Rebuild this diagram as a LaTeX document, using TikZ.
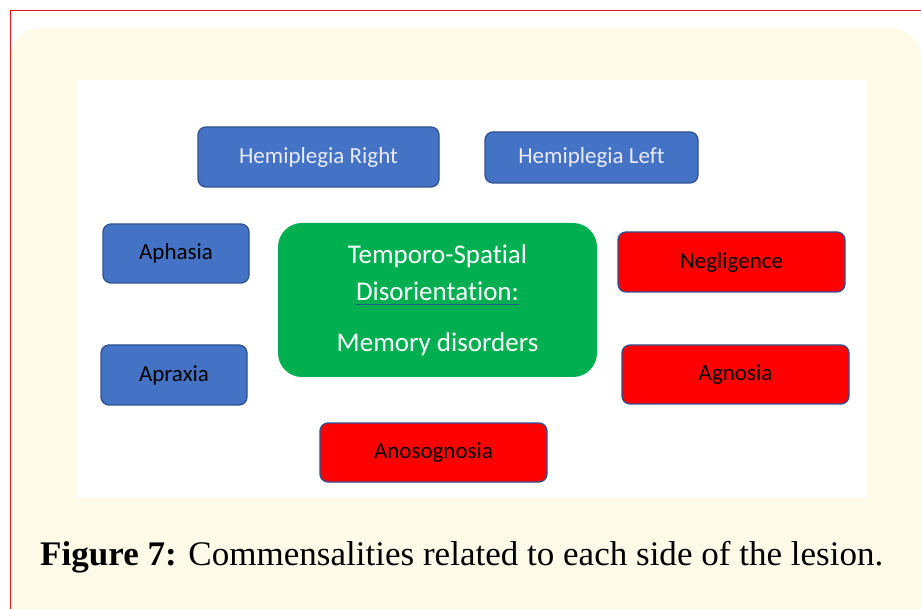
\documentclass[tikz,border=0pt]{standalone}
\usepackage{fontspec}
\usepackage{graphicx}
\setmainfont{Carlito}[Ligatures=NoCommon]
\newfontfamily\capfont{Liberation Serif}
\definecolor{cream}{HTML}{FEFAE8}
\definecolor{boxblue}{HTML}{4472C4}
\definecolor{edgeblue}{HTML}{2F528F}
\definecolor{boxred}{HTML}{FF0000}
\definecolor{boxgreen}{HTML}{00B050}
\definecolor{ulblue}{HTML}{1F5A8C}
\definecolor{frame}{HTML}{E8141E}
\newcommand\spellul[1]{\setbox0\hbox{#1}\rlap{\color{ulblue}\rule[-5pt]{\wd0}{1.3pt}}\box0}
\tikzset{
  tag/.style={draw=edgeblue, line width=1.3pt, rounded corners=8pt, inner sep=0pt,
    font=\fontsize{23}{27}\selectfont},
  bluebox/.style={tag, fill=boxblue},
  redbox/.style={tag, fill=boxred, text=black},
  greenbox/.style={fill=boxgreen, rounded corners=24pt, inner sep=0pt, text=white, align=center,
    font=\fontsize{27}{37}\selectfont}
}
\begin{document}
\begin{tikzpicture}[x=1pt,y=-1pt]
\useasboundingbox (0,0) rectangle (921,609);
\fill[white] (0,0) rectangle (921,609);
% cream panel
\fill[cream, rounded corners=30pt] (11,28) -- (921,28) -- (921,640) -- (11,640) -- cycle;
\fill[cream] (11,580) rectangle (921,609);
% frame lines
\draw[frame, line width=1pt] (10.5,609) -- (10.5,10.5) -- (921,10.5);
% white figure area
\fill[white] (77,80) rectangle (867,498);

\node[bluebox, text=white!92!blue, minimum width=241pt, minimum height=60pt] (hr) at (318.5,157) {Hemiplegia Right};
\node[bluebox, text=white!92!blue, minimum width=213pt, minimum height=51pt] (hl) at (591.5,157.5) {Hemiplegia Left};
\node[bluebox, text=black, minimum width=146pt, minimum height=59pt] (aph) at (176,253.5) {Aphasia};
\node[bluebox, text=black, minimum width=146pt, minimum height=60pt] (apr) at (174,375) {Apraxia};
\node[redbox, minimum width=227pt, minimum height=60pt] (neg) at (731.5,262) {Negligence};
\node[redbox, minimum width=227pt, minimum height=59pt] (agn) at (735.5,374.5) {Agnosia};
\node[redbox, minimum width=227pt, minimum height=59pt] (ano) at (433.5,452.5) {Anosognosia};
\node[greenbox, minimum width=319pt, minimum height=154pt] (tsd) at (437.5,300)
  {\raisebox{-3pt}{Temporo-Spatial}\\ \raisebox{-3pt}{\spellul{Disorientation:}}\\[14pt] \raisebox{-3pt}{Memory disorders}};

\node[anchor=base west, inner sep=0pt] (cap) at (40,565)
  {\resizebox{843pt}{\height}{\capfont\fontsize{34.5}{40}\selectfont\textbf{Figure 7:} Commensalities related to each side of the lesion.}};
\end{tikzpicture}
\end{document}
